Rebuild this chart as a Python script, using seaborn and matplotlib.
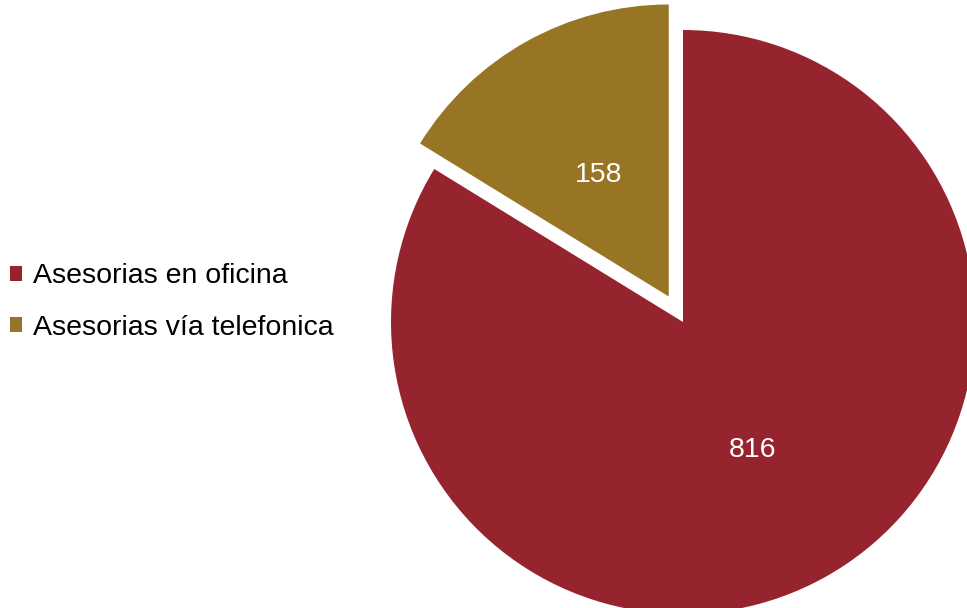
import seaborn as sns
import matplotlib.pyplot as plt
from matplotlib.patches import Patch

# datos
categorias = ['Asesorias en oficina', 'Asesorias vía telefonica']
valores = [816, 158]
colores = ['#96242E', '#987425']

sns.set_theme(style='white')
plt.rcParams['font.family'] = ['Liberation Sans', 'DejaVu Sans']
paleta = sns.color_palette(colores)

fig = plt.figure(figsize=(9.67, 6.08), dpi=100)
# eje cuadrado colocado a mano: centro (683, 322) px, radio ~292 px
r_px = 292
lim = 1.12
lado = 2 * lim * r_px
cx, cy = 683, 608 - 322
ax = fig.add_axes([(cx - lado / 2) / 967, (cy - lado / 2) / 608, lado / 967, lado / 608])

wedges, textos = ax.pie(valores, colors=paleta, startangle=90, counterclock=False,
                        explode=[0, 0.1], labels=[str(v) for v in valores],
                        labeldistance=0.49, wedgeprops={'linewidth': 0},
                        textprops={'color': 'white', 'fontsize': 20.5})
for t in textos:
    t.set_horizontalalignment('center')
    t.set_verticalalignment('center_baseline')
ax.set_xlim(-lim, lim)
ax.set_ylim(-lim, lim)
ax.set_aspect('equal')
ax.axis('off')

handles = [Patch(facecolor=c, edgecolor='none') for c in paleta]
fig.legend(handles, categorias, loc='center left', bbox_to_anchor=(0.0103, 0.503),
           frameon=False, fontsize=20.5, handlelength=0.42, handleheight=0.42,
           handletextpad=0.38, labelspacing=0.9, borderaxespad=0, borderpad=0,
           labelcolor='black')

fig.savefig('out.png', dpi=100)
